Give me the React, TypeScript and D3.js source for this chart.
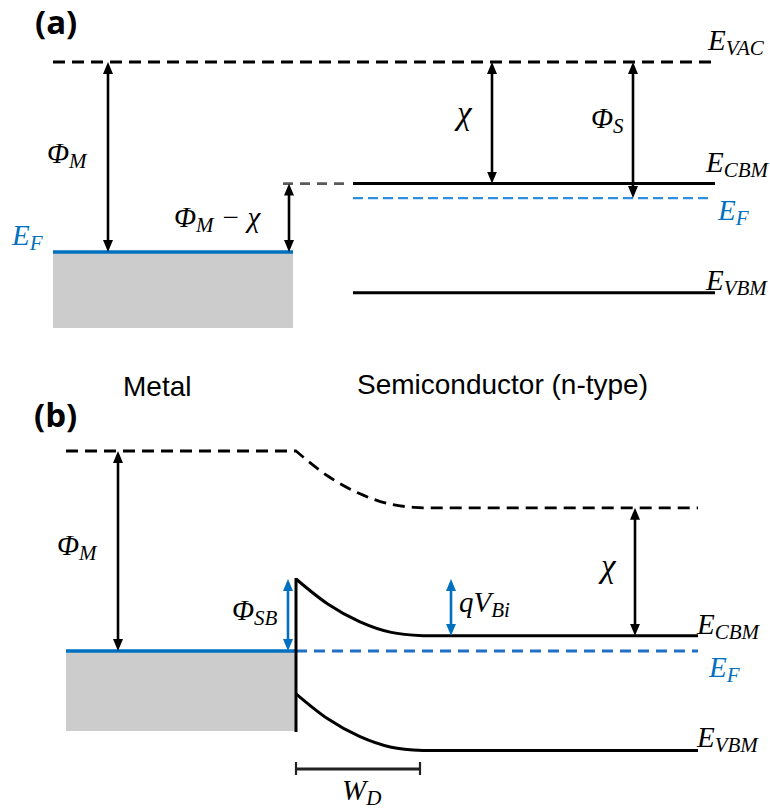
import React from "react";
import * as d3 from "d3";

// ---- data (energies in eV) ----
const PHI_M = 5.0; // metal work function
const CHI = 3.2; // electron affinity
const PHI_S = 3.58; // semiconductor work function
const E_GAP = 2.87; // band gap
const METAL_BAND_DEPTH = 2.0; // filled metal band drawn below E_F
const MATERIALS = ["Metal", "Semiconductor (n-type)"];
const PANELS = ["(a)", "(b)"];
// band bending across the depletion region
const BEND_POS = [0, 0.25, 0.5, 0.75, 1]; // fraction of W_D
const BEND_REMAIN = [1, 0.56, 0.25, 0.06, 0]; // fraction of qV_Bi left

const BLUE = "#0070c0";
const BLUE_LIGHT = "#2f8ee0";
const MATH = "'Liberation Serif', 'DejaVu Serif', serif";
const SANS = "'Liberation Sans', Arial, sans-serif";

const yA = d3.scaleLinear().domain([0, -PHI_M]).range([62, 252]);
const yB = d3.scaleLinear().domain([0, -PHI_M]).range([451, 651]);

function Label({ x, y, main, sub, rest, color = "#000", size = 29, subSize = 21, dy = 5 }: any) {
  return (
    <text x={x} y={y} fill={color} fontFamily={MATH} fontStyle="italic" fontSize={size}>
      <tspan>{main}</tspan>
      {sub ? (
        <tspan dy={dy} fontSize={subSize}>
          {sub}
        </tspan>
      ) : null}
      {rest ? (
        <tspan dy={-dy} dx={7}>
          {rest}
        </tspan>
      ) : null}
    </text>
  );
}

function Arrow({ x, y1, y2, color = "#000", id = "ah" }: any) {
  const s = 5;
  return (
    <line
      x1={x}
      x2={x}
      y1={y1 + s}
      y2={y2 - s}
      stroke={color}
      strokeWidth={2.6}
      markerStart={`url(#${id})`}
      markerEnd={`url(#${id})`}
    />
  );
}

function bendPath(x0: number, x1: number, e0: number, eFar: number, y: any) {
  const pts: [number, number][] = BEND_POS.map((t, i) => [
    x0 + t * (x1 - x0),
    y(eFar + (e0 - eFar) * BEND_REMAIN[i]),
  ]);
  return d3.line().curve(d3.curveMonotoneX)(pts) as string;
}

export default function App() {
  // panel (a)
  const aMx0 = 53, aMx1 = 293, aSx0 = 353, aSx1 = 715;
  const aVac = yA(0);
  const aEfM = yA(-PHI_M);
  const aCbm = yA(-CHI);
  const aEfS = yA(-PHI_S);
  const aVbm = yA(-CHI - E_GAP);
  const aBot = yA(-PHI_M - METAL_BAND_DEPTH);

  // panel (b)
  const bMx0 = 66, bXi = 296, bXd = 423, bXr = 698;
  const EF = -PHI_M;
  const vacFar = EF + PHI_S;
  const cbmFar = EF + (PHI_S - CHI);
  const cbmInt = -CHI;
  const vbmFar = cbmFar - E_GAP;
  const vbmInt = cbmInt - E_GAP;
  const bBot = yB(EF - METAL_BAND_DEPTH);

  const vacPath =
    `M${bMx0},${yB(0)}L${bXi},${yB(0)}` +
    bendPath(bXi, bXd, 0, vacFar, yB).replace(/^M/, "L") +
    `L${bXr},${yB(vacFar)}`;
  const cbPath = bendPath(bXi, bXd, cbmInt, cbmFar, yB) + `L${bXr},${yB(cbmFar)}`;
  const vbPath = bendPath(bXi, bXd, vbmInt, vbmFar, yB) + `L${bXr},${yB(vbmFar)}`;

  return (
    <svg
      width={770}
      height={811}
      style={{ position: "absolute", left: 0, top: 0, background: "#fff" }}
    >
      <defs>
        <marker id="ah" markerUnits="userSpaceOnUse" markerWidth={12} markerHeight={10} refX={7} refY={5} orient="auto-start-reverse">
          <path d="M0,0L12,5L0,10Z" fill="#000" />
        </marker>
        <marker id="ahb" markerUnits="userSpaceOnUse" markerWidth={12} markerHeight={10} refX={7} refY={5} orient="auto-start-reverse">
          <path d="M0,0L12,5L0,10Z" fill={BLUE} />
        </marker>
      </defs>

      {/* ---------- panel (a) ---------- */}
      <text x={35} y={34} fontFamily="'Open Sans', sans-serif" fontWeight="bold" fontSize={33}>
        {PANELS[0]}
      </text>
      <rect x={aMx0} y={aEfM} width={aMx1 - aMx0} height={aBot - aEfM} fill="#cccccc" />
      <line x1={aMx0} x2={aSx1} y1={aVac} y2={aVac} stroke="#000" strokeWidth={2.8} strokeDasharray="12 7" />
      <line x1={aMx0} x2={aMx1} y1={aEfM} y2={aEfM} stroke={BLUE} strokeWidth={3.5} />
      <line x1={283} x2={aSx0 - 4} y1={aCbm} y2={aCbm} stroke="#5a5a5a" strokeWidth={2.8} strokeDasharray="10 7" />
      <line x1={aSx0} x2={aSx1} y1={aCbm} y2={aCbm} stroke="#000" strokeWidth={3} />
      <line x1={aSx0} x2={712} y1={aEfS} y2={aEfS} stroke={BLUE_LIGHT} strokeWidth={2.2} strokeDasharray="10 5" />
      <line x1={aSx0} x2={aSx1} y1={aVbm} y2={aVbm} stroke="#000" strokeWidth={3} />

      <Arrow x={108} y1={aVac} y2={aEfM} />
      <Arrow x={289} y1={aCbm} y2={aEfM} />
      <Arrow x={492} y1={aVac} y2={aCbm} />
      <Arrow x={633} y1={aVac} y2={aEfS} />

      <Label x={47} y={163} main="Φ" sub="M" />
      <Label x={12} y={245} main="E" sub="F" color={BLUE} />
      <Label x={174} y={227} main="Φ" sub="M" rest="− χ" />
      <Label x={457} y={124} main="χ" size={33} />
      <Label x={591} y={128} main="Φ" sub="S" />
      <Label x={708} y={50} main="E" sub="VAC" />
      <Label x={706} y={172} main="E" sub="CBM" />
      <Label x={718} y={220} main="E" sub="F" color={BLUE} />
      <Label x={706} y={290} main="E" sub="VBM" />

      <text x={123} y={396} fontFamily={SANS} fontSize={28}>
        {MATERIALS[0]}
      </text>
      <text x={357} y={394} fontFamily={SANS} fontSize={28}>
        {MATERIALS[1]}
      </text>

      {/* ---------- panel (b) ---------- */}
      <text x={34} y={427} fontFamily="'Open Sans', sans-serif" fontWeight="bold" fontSize={33}>
        {PANELS[1]}
      </text>
      <rect x={bMx0} y={yB(EF)} width={bXi - bMx0} height={bBot - yB(EF)} fill="#cccccc" />
      <path d={vacPath} fill="none" stroke="#000" strokeWidth={2.8} strokeDasharray="12 7" />
      <line x1={bMx0} x2={bXi} y1={yB(EF)} y2={yB(EF)} stroke={BLUE} strokeWidth={3.5} />
      <line x1={bXi} x2={bXr} y1={yB(EF)} y2={yB(EF)} stroke="#1f6fc4" strokeWidth={3} strokeDasharray="11 7" />
      <path d={cbPath} fill="none" stroke="#000" strokeWidth={3} />
      <path d={vbPath} fill="none" stroke="#000" strokeWidth={3} />
      <line x1={bXi} x2={bXi} y1={yB(cbmInt) - 1} y2={bBot + 1} stroke="#000" strokeWidth={3} />

      <Arrow x={118} y1={yB(0)} y2={yB(EF)} />
      <Arrow x={288} y1={yB(cbmInt)} y2={yB(EF)} color={BLUE} id="ahb" />
      <Arrow x={451} y1={yB(cbmInt)} y2={yB(cbmFar)} color={BLUE} id="ahb" />
      <Arrow x={635} y1={yB(vacFar)} y2={yB(cbmFar)} />

      {/* W_D bar */}
      <line x1={bXi} x2={420} y1={769} y2={769} stroke="#222" strokeWidth={2.8} />
      <line x1={bXi} x2={bXi} y1={762} y2={775} stroke="#222" strokeWidth={2.2} />
      <line x1={420} x2={420} y1={762} y2={775} stroke="#222" strokeWidth={2.2} />

      <Label x={57} y={555} main="Φ" sub="M" />
      <Label x={232} y={620} main="Φ" sub="SB" />
      <Label x={459} y={612} main="qV" sub="Bi" />
      <Label x={601} y={577} main="χ" size={33} />
      <Label x={697} y={634} main="E" sub="CBM" />
      <Label x={709} y={677} main="E" sub="F" color={BLUE} />
      <Label x={697} y={747} main="E" sub="VBM" />
      <Label x={342} y={800} main="W" sub="D" />
    </svg>
  );
}
